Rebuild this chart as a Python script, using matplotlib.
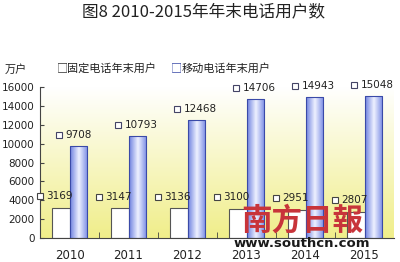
import numpy as np
import matplotlib.pyplot as plt
from matplotlib.colors import LinearSegmentedColormap

plt.rcParams['font.family'] = ['Noto Sans CJK SC', 'DejaVu Sans']

years = ['2010', '2011', '2012', '2013', '2014', '2015']
fixed = [3169, 3147, 3136, 3100, 2951, 2807]
mobile = [9708, 10793, 12468, 14706, 14943, 15048]

fig = plt.figure(figsize=(4, 2.62), dpi=100)
ax = fig.add_axes([0.1, 0.0916, 0.885, 0.576])

x = np.arange(len(years))
w = 0.29

# yellow -> white background of plot area
bg = LinearSegmentedColormap.from_list('bg', ['#f0ee8a', '#ffffff'])
ax.imshow(np.linspace(0, 1, 256).reshape(-1, 1), cmap=bg, origin='lower',
          extent=[-0.5, 5.5, 0, 16000], aspect='auto', zorder=0)

ax.bar(x - w / 2, fixed, w, color='white', edgecolor='#555555', linewidth=0.8, zorder=2)

bars = ax.bar(x + w / 2, mobile, w, color='none', edgecolor='#3a4aa8', linewidth=0.8, zorder=3)
blue = LinearSegmentedColormap.from_list('bl', ['#6f82e0', '#eef1ff', '#7a8ce4'])
for b in bars:
    im = ax.imshow(np.linspace(0, 1, 64).reshape(1, -1), cmap=blue,
                   extent=[b.get_x(), b.get_x() + b.get_width(), 0, b.get_height()],
                   aspect='auto', zorder=2)
    im.set_clip_path(b)

# value labels
for i in range(len(years)):
    xm = x[i] - w / 2 - 0.36
    ym = fixed[i] + 1250
    ax.plot(xm, ym, 's', ms=4, mfc='white', mec='#444444', mew=0.8, clip_on=False, zorder=5)
    ax.text(xm + 0.11, ym, str(fixed[i]), fontsize=7.5, va='center', ha='left',
            color='#222222', family='DejaVu Sans', zorder=5)
    xm = x[i] + w / 2 - 0.33
    ym = mobile[i] + 1200
    ax.plot(xm, ym, 's', ms=4, mfc='white', mec='#444466', mew=0.8, clip_on=False, zorder=5)
    ax.text(xm + 0.12, ym, str(mobile[i]), fontsize=7.5, va='center', ha='left',
            color='#222222', family='DejaVu Sans', zorder=5, clip_on=False)

ax.set_xlim(-0.5, 5.5)
ax.set_ylim(0, 16000)
ax.set_yticks(range(0, 16001, 2000))
ax.set_xticks(x)
ax.set_xticklabels(years)
ax.set_xticks(np.arange(0.5, 5.5, 1), minor=True)
ax.tick_params(axis='x', which='major', length=0, pad=8, labelsize=8.5)
ax.tick_params(axis='x', which='minor', direction='in', length=4, color='#444444')
ax.tick_params(axis='y', direction='in', length=3, labelsize=7.5, pad=4, color='#444444')
for lbl in ax.get_xticklabels() + ax.get_yticklabels():
    lbl.set_family('DejaVu Sans')
    lbl.set_color('#222222')
for s in ['top', 'right']:
    ax.spines[s].set_visible(False)
for s in ['left', 'bottom']:
    ax.spines[s].set_color('#444444')
    ax.spines[s].set_linewidth(0.8)

fig.text(0.508, 0.955, '图8 2010-2015年年末电话用户数', ha='center', va='center',
         fontsize=12, color='#222222')
fig.text(0.012, 0.735, '万户', ha='left', va='center', fontsize=8, color='#222222')
fig.text(0.142, 0.74, '□', ha='left', va='center', fontsize=8, color='#333333')
fig.text(0.168, 0.74, '固定电话年末用户', ha='left', va='center', fontsize=8, color='#222222')
fig.text(0.428, 0.74, '□', ha='left', va='center', fontsize=8, color='#3a4aa8')
fig.text(0.455, 0.74, '移动电话年末用户', ha='left', va='center', fontsize=8, color='#222222')

# watermark
fig.text(0.755, 0.16, '南方日報', ha='center', va='center', fontsize=22, fontweight='bold',
         color='#c8343a', family=['Noto Sans CJK TC', 'DejaVu Sans'], zorder=10)
fig.text(0.755, 0.072, 'www.southcn.com', ha='center', va='center', fontsize=9.5,
         fontweight='bold', color='#1a1a1a', family='DejaVu Sans', zorder=10)

fig.savefig('out.png', dpi=100)
